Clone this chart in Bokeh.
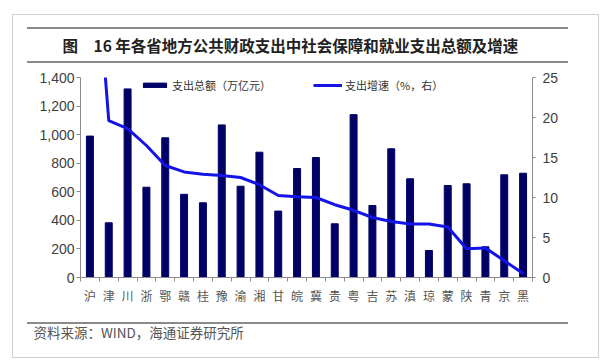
import numpy as np
from bokeh.plotting import figure
from bokeh.models import (Range1d, LinearAxis, FixedTicker, NumeralTickFormatter,
                          Legend, LegendItem, Title, Div, GridBox)
from bokeh.embed import file_html
from bokeh.resources import INLINE

provinces = ["沪", "津", "川", "浙", "鄂", "赣", "桂", "豫", "渝", "湘", "甘", "皖",
             "冀", "贵", "粤", "吉", "苏", "滇", "琼", "蒙", "陕", "青", "京", "黑"]
spending = [990, 383, 1320, 632, 978, 582, 523, 1068, 639, 877, 465, 763,
            840, 376, 1140, 504, 901, 691, 189, 644, 656, 215, 719, 730]
growth = [50.0, 19.6, 18.6, 16.5, 14.0, 13.2, 12.9, 12.75, 12.5, 11.6, 10.25, 10.1,
          10.0, 9.1, 8.4, 7.5, 7.0, 6.7, 6.7, 6.3, 3.6, 3.7, 2.1, 0.5]
left_ticks = [0, 200, 400, 600, 800, 1000, 1200, 1400]
right_ticks = [0, 5, 10, 15, 20, 25]

title_text = "图　16 年各省地方公共财政支出中社会保障和就业支出总额及增速"
source_text = "资料来源：WIND，海通证券研究所"
bar_name = "支出总额（万亿元）"
line_name = "支出增速（%，右）"

n = len(provinces)
xs = np.arange(n) + 0.5

CJK = "Noto Sans CJK SC"
NUM = "Liberation Sans"
W, H = 600, 360

p = figure(width=W, height=H, output_backend="svg", toolbar_location=None,
           x_range=Range1d(0, n), y_range=Range1d(0, 1400),
           min_border_left=80, min_border_right=W - 532, min_border_top=77,
           min_border_bottom=H - 277)
p.outline_line_color = None
p.background_fill_alpha = 0
p.border_fill_alpha = 0
p.xgrid.visible = False
p.ygrid.visible = False
p.extra_y_ranges = {"pct": Range1d(0, 25)}

bars = p.vbar(x=xs, top=spending, width=0.37, fill_color="#000066",
              line_color="#000066")
line = p.line(x=xs, y=growth, y_range_name="pct", line_color="#1414e6",
              line_width=3)

axis_color = "#8c8c8c"
label_color = "#404040"

# x axis
xa = p.xaxis[0]
xa.ticker = FixedTicker(ticks=list(xs), minor_ticks=list(range(n + 1)))
xa.major_label_overrides = {float(x): name for x, name in zip(xs, provinces)}
xa.major_tick_line_color = None
xa.minor_tick_line_color = axis_color
xa.minor_tick_out = 4
xa.minor_tick_in = 0
xa.axis_line_color = axis_color
xa.major_label_text_font = CJK
xa.major_label_text_font_size = "12px"
xa.major_label_text_color = "#555555"
xa.major_label_standoff = 3

# left axis
ya = p.yaxis[0]
ya.ticker = FixedTicker(ticks=left_ticks)
ya.formatter = NumeralTickFormatter(format="0,0")
ya.axis_line_color = axis_color
ya.major_tick_line_color = axis_color
ya.major_tick_out = 4
ya.major_tick_in = 0
ya.minor_tick_line_color = None
ya.major_label_text_font = NUM
ya.major_label_text_font_size = "14px"
ya.major_label_text_color = label_color
ya.major_label_standoff = 2

# right axis
ra = LinearAxis(y_range_name="pct", ticker=FixedTicker(ticks=right_ticks))
ra.axis_line_color = axis_color
ra.major_tick_line_color = axis_color
ra.major_tick_out = 3
ra.major_tick_in = 0
ra.minor_tick_line_color = None
ra.major_label_text_font = NUM
ra.major_label_text_font_size = "14px"
ra.major_label_text_color = label_color
ra.major_label_standoff = 7
p.add_layout(ra, "right")

legend = Legend(items=[LegendItem(label=bar_name, renderers=[bars]),
                       LegendItem(label=line_name, renderers=[line])],
                orientation="horizontal", location=(60, 184),
                glyph_width=29, glyph_height=6, label_height=12,
                label_standoff=3, spacing=42, padding=0, margin=0,
                border_line_color=None, background_fill_alpha=0,
                label_text_font=CJK, label_text_font_size="11px",
                label_text_color="#333333")
p.add_layout(legend)

p.add_layout(Title(text=title_text, align="left", offset=-18, standoff=44,
                   text_font=CJK, text_font_size="15.5px", text_font_style="bold",
                   text_color="#222222"), "above")
p.add_layout(Title(text=source_text, align="left", offset=-47, standoff=27,
                   text_font=CJK, text_font_size="13.5px", text_font_style="normal",
                   text_color="#555555"), "below")

deco_html = (
    '<div style="position:relative;width:%dpx;height:%dpx;">'
    '<div style="position:absolute;left:7px;top:9px;width:587px;height:344px;'
    'border:1px solid #cfcfcf;box-sizing:border-box;"></div>'
    '<div style="position:absolute;left:22px;top:22px;width:541px;height:2px;background:#8a8a8a;"></div>'
    '<div style="position:absolute;left:22px;top:56px;width:541px;height:2px;background:#8a8a8a;"></div>'
    '<div style="position:absolute;left:22px;top:317px;width:541px;height:2px;background:#8a8a8a;"></div>'
    '</div>' % (W, H)
)
deco = Div(text=deco_html, width=W, height=H)

layout = GridBox(children=[(deco, 0, 0), (p, 0, 0)])

open("out.html", "w").write(file_html(layout, INLINE))
